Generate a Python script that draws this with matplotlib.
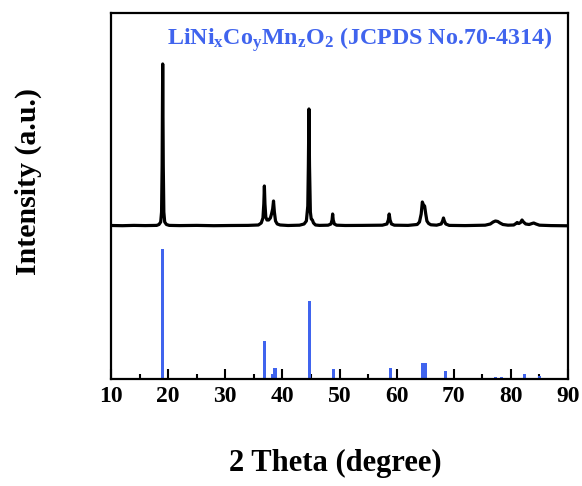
import matplotlib
matplotlib.use("Agg")
import matplotlib.pyplot as plt
from matplotlib.ticker import MultipleLocator

plt.rcParams['font.family'] = ['Liberation Serif', 'DejaVu Serif']
plt.rcParams['font.weight'] = 'bold'
plt.rcParams['mathtext.fontset'] = 'custom'
plt.rcParams['mathtext.rm'] = 'Liberation Serif:bold'
plt.rcParams['mathtext.it'] = 'Liberation Serif:bold'
plt.rcParams['mathtext.bf'] = 'Liberation Serif:bold'

obs_2theta = [10.0, 12.0, 14.0, 16.0, 18.0, 18.4, 18.7, 18.85, 18.95, 19.05, 19.15, 19.25, 19.4, 19.7, 20.2,
              22.0, 25.0, 28.0, 31.0, 34.0, 35.8, 36.3, 36.6, 36.75, 36.85, 36.95, 37.1, 37.3, 37.6, 37.9,
              38.1, 38.3, 38.45, 38.6, 38.8, 39.1, 39.6, 41.0, 43.0, 43.8, 44.2, 44.45, 44.55, 44.65, 44.75,
              44.9, 45.05, 45.25, 45.45, 45.8, 46.5, 48.0, 48.5, 48.7, 48.8, 48.9, 49.1, 49.5, 51.0, 54.0,
              57.5, 58.3, 58.55, 58.7, 58.85, 59.1, 59.6, 62.0, 63.6, 64.0, 64.3, 64.5, 64.7, 64.9, 65.1,
              65.3, 65.6, 66.0, 67.0, 67.8, 68.05, 68.2, 68.35, 68.6, 69.2, 72.0, 75.5, 76.4, 76.9, 77.3,
              77.7, 78.1, 78.6, 79.5, 80.5, 80.9, 81.1, 81.4, 81.7, 81.95, 82.2, 82.6, 83.2, 83.7, 84.0,
              84.4, 85.0, 87.0, 90.0]
obs_int = [0.5, 0.3, 0.6, 0.4, 0.6, 1.5, 4.0, 14.0, 60.0, 162.0, 60.0, 14.0, 4.0, 1.5, 0.6,
           0.4, 0.6, 0.3, 0.5, 0.6, 1.0, 3.0, 8.0, 22.0, 40.0, 22.0, 9.0, 6.0, 6.0, 8.0,
           12.0, 17.0, 25.0, 14.0, 5.0, 2.0, 1.0, 0.5, 0.8, 2.0, 5.0, 20.0, 60.0, 117.0, 60.0,
           14.0, 7.0, 6.0, 3.0, 1.0, 0.6, 0.8, 2.0, 6.0, 12.0, 6.0, 2.0, 0.8, 0.5, 0.6,
           0.8, 2.0, 6.0, 12.0, 6.0, 2.0, 0.8, 0.6, 1.5, 4.0, 12.0, 24.0, 21.0, 20.0, 12.0,
           5.0, 2.5, 1.2, 0.8, 2.0, 5.0, 8.0, 5.0, 2.0, 0.6, 0.4, 0.8, 2.0, 4.0, 5.0,
           4.5, 3.0, 1.5, 0.8, 1.0, 2.5, 3.5, 2.5, 3.5, 6.0, 4.0, 2.0, 1.5, 2.5, 3.0,
           2.0, 0.8, 0.4, 0.2]

# Reference pattern JCPDS No.70-4314: 2theta and relative intensity (%)
ref_2theta = [19.0, 36.9, 38.2, 38.7, 44.75, 48.9, 59.0, 64.6, 65.1, 68.6, 77.3, 78.3, 81.6, 82.4, 85.0]
ref_int = [100.0, 29.2, 3.8, 8.7, 60.2, 7.7, 8.5, 12.3, 12.3, 6.4, 1.5, 1.5, 0.5, 4.1, 2.3]

x_ticks = [10, 20, 30, 40, 50, 60, 70, 80, 90]

blue = '#4064EE'

fig = plt.figure(figsize=(5.82, 4.86), dpi=100)
ax = fig.add_axes([111/582, 1-379/486, 457/582, 366/486])

# layout: reference bars occupy lower part, measured pattern offset above
ref_scale = 1.0 / 100.0
obs_offset = 1.177
obs_scale = 1.0 / 130.0
ax.bar(ref_2theta, [v * ref_scale for v in ref_int], width=0.55, color=blue, zorder=2)
ax.plot(obs_2theta, [obs_offset + v * obs_scale for v in obs_int], color='black', lw=2.3,
        solid_joinstyle='round', zorder=3)

ax.set_xlim(10, 90)
ax.set_ylim(0, 366/130)
ax.set_xticks(x_ticks)
ax.xaxis.set_minor_locator(MultipleLocator(5))
ax.set_yticks([])
ax.tick_params(axis='x', which='major', direction='in', length=7, width=1.5, pad=5,
               labelsize=17, top=False)
ax.tick_params(axis='x', which='minor', direction='in', length=3.5, width=1.5, top=False)
for lbl in ax.get_xticklabels():
    lbl.set_fontweight('bold')
for s in ax.spines.values():
    s.set_linewidth(1.6)

ax.set_xlabel('2 Theta (degree)', fontsize=22, fontweight='bold')
ax.xaxis.set_label_coords(0.49, -0.19)
ax.set_ylabel('Intensity (a.u.)', fontsize=21.5, fontweight='bold')
ax.yaxis.set_label_coords(-0.152, 0.54)

ax.text(0.1225, 0.914, r'LiNi$_{\rm x}$Co$_{\rm y}$Mn$_{\rm z}$O$_{\rm 2}$ (JCPDS No.70-4314)',
        transform=ax.transAxes, ha='left', va='baseline', fontsize=17.3, fontweight='bold', color=blue)

fig.savefig('out.png', dpi=100)
